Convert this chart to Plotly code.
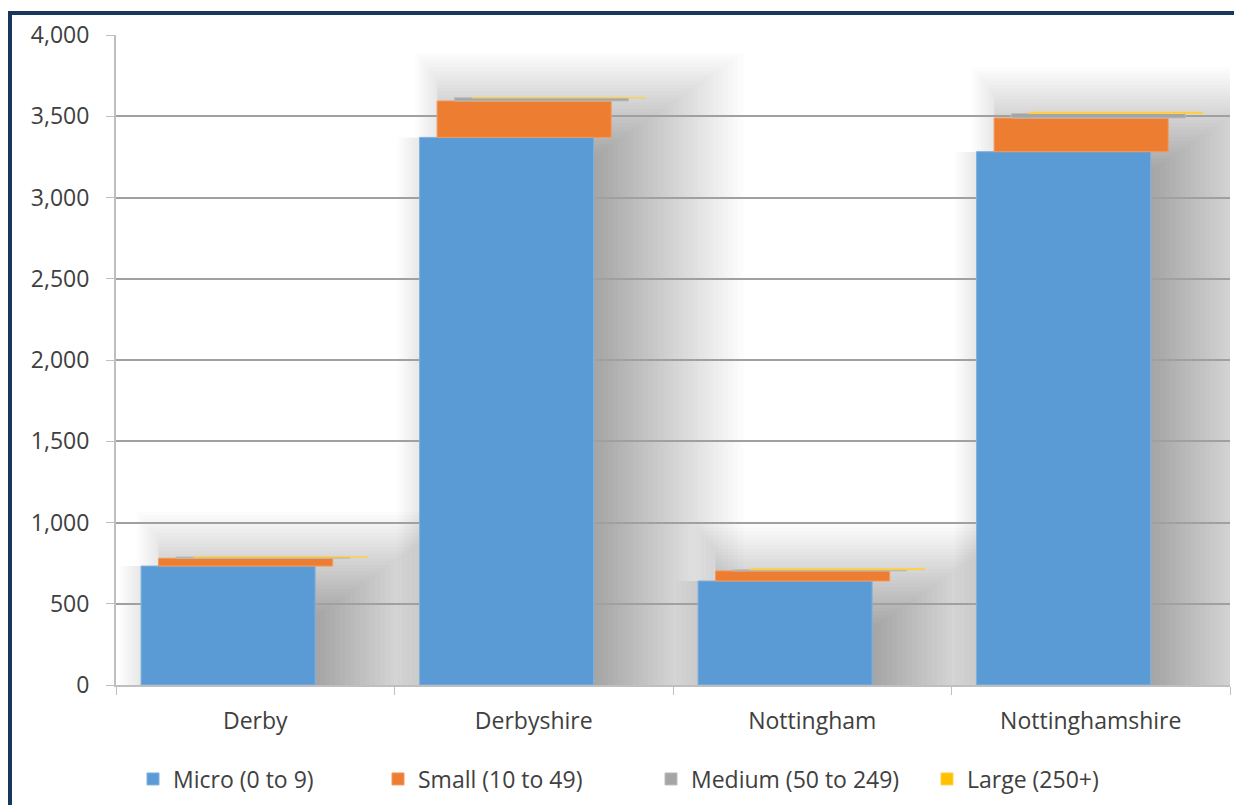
import plotly.graph_objects as go

categories = ["Derby", "Derbyshire", "Nottingham", "Nottinghamshire"]
micro = [732, 3370, 640, 3282]
small = [48, 224, 62, 207]
medium = [8, 20, 8, 28]
large = [0, 0, 6, 8]

series_names = ["Micro (0 to 9)", "Small (10 to 49)", "Medium (50 to 249)", "Large (250+)"]
series_vals = [micro, small, medium, large]
colors = ["#5B9BD5", "#ED7D31", "#A5A5A5", "#FFC000"]
line_colors = ["#7FB1E0", "#F29A5E", "#BDBDBD", "#FFD04D"]

# layout constants (pixels)
W, H = 1234, 805
L, R, T, B = 116, 4, 35, 120
plot_w = W - L - R
plot_h = H - T - B
YMAX = 4000
px_per_x = plot_w / 4.0
val_per_px = YMAX / plot_h

bar_w = 0.625
offsets = [-0.41, -0.347, -0.285, -0.222]

FONT = "Open Sans"
FS = 23
TXT = "#404040"

fig = go.Figure()

bases = [0] * len(categories)
for k, (name, vals) in enumerate(zip(series_names, series_vals)):
    fig.add_trace(go.Bar(
        x=categories, y=vals, base=list(bases), name=name,
        width=bar_w, offset=offsets[k],
        marker=dict(color=colors[k], line=dict(color=line_colors[k], width=1)),
        legend="legend" if k == 0 else f"legend{k+1}",
        hoverinfo="name+y",
    ))
    bases = [b + v for b, v in zip(bases, vals)]

totals = bases

# soft shadows behind each stack: many faint L-shaped polygons
shapes = []
N = 30
alpha = 0.0105
for i, tot in enumerate(totals):
    left = i + offsets[0]
    right = left + bar_w
    small_left = i + offsets[1]
    mtop = micro[i]
    for k in range(1, N + 1):
        f = k / N
        ext_left = max(0.0, f - 0.75) / 0.25 * 22 / px_per_x
        x0l = left - ext_left
        x0u = small_left - ext_left
        x1 = right + f * 150 / px_per_x
        y1 = tot + (f * 105 - 60) * val_per_px
        if y1 <= mtop:
            path = f"M{x0l:.5f},0 L{x0l:.5f},{y1:.3f} L{x1:.5f},{y1:.3f} L{x1:.5f},0 Z"
        else:
            path = (f"M{x0l:.5f},0 L{x0l:.5f},{mtop:.3f} L{x0u:.5f},{mtop:.3f} "
                    f"L{x0u:.5f},{y1:.3f} L{x1:.5f},{y1:.3f} L{x1:.5f},0 Z")
        shapes.append(dict(
            type="path", xref="x", yref="y", layer="below", path=path,
            fillcolor=f"rgba(0,0,0,{alpha})", line=dict(width=0),
        ))

# navy frame (left and top edges)
shapes.append(dict(
    type="rect", xref="paper", yref="paper",
    x0=(10 - L) / plot_w, x1=(W + 20 - L) / plot_w,
    y0=-(H + 20 - T - plot_h) / plot_h, y1=(plot_h + T - 13) / plot_h,
    line=dict(color="#17375E", width=4), fillcolor="rgba(0,0,0,0)", layer="above",
))

legend_text_x = [168, 413, 686, 962]
legend_y = (H - B - 779) / plot_h
legends = {}
for k, tx in enumerate(legend_text_x):
    key = "legend" if k == 0 else f"legend{k+1}"
    legends[key] = dict(
        x=(tx - 35 - L) / plot_w, xanchor="left",
        y=legend_y, yanchor="middle",
        orientation="h", bgcolor="rgba(0,0,0,0)",
        font=dict(family=FONT, size=FS, color=TXT),
        itemwidth=30,
    )

fig.update_layout(
    width=W, height=H,
    margin=dict(l=L, r=R, t=T, b=B, pad=0),
    paper_bgcolor="white", plot_bgcolor="white",
    barmode="overlay",
    showlegend=True,
    shapes=shapes,
    font=dict(family=FONT, size=FS, color=TXT),
    xaxis=dict(
        type="category", range=[-0.5, 3.5],
        tickson="boundaries", ticks="outside", ticklen=8, tickcolor="#BFBFBF",
        showline=True, linecolor="#BFBFBF", linewidth=2,
        showgrid=False, tickfont=dict(family=FONT, size=FS, color=TXT),
        ticklabelstandoff=14, fixedrange=True,
    ),
    yaxis=dict(
        range=[0, YMAX], dtick=500, tickformat=",",
        ticks="outside", ticklen=8, tickcolor="#BFBFBF",
        showline=True, linecolor="#BFBFBF", linewidth=2,
        showgrid=True, gridcolor="#A0A0A0", gridwidth=1.5,
        zeroline=False, tickfont=dict(family=FONT, size=FS, color=TXT),
        ticklabelstandoff=12, fixedrange=True,
    ),
    **legends,
)

fig.write_html("out.html")
